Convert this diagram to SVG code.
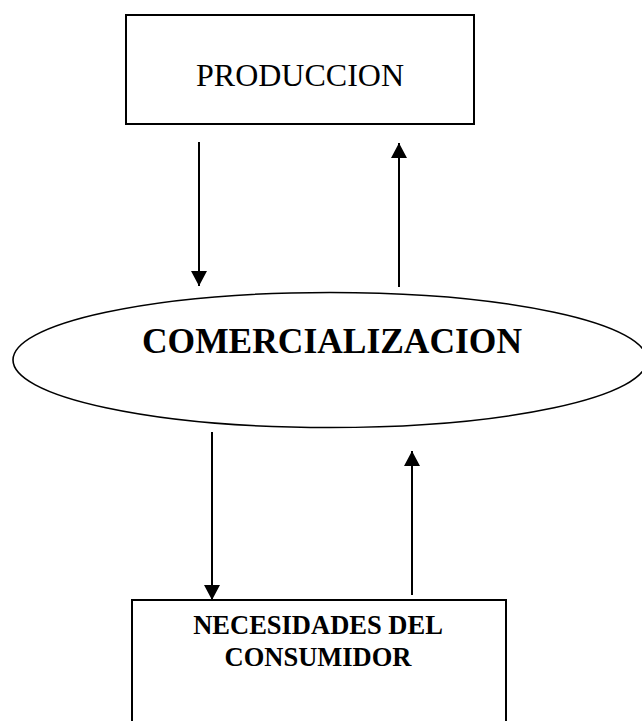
<svg xmlns="http://www.w3.org/2000/svg" width="642" height="721" viewBox="0 0 642 721">
<defs>
<marker id="ah" markerUnits="userSpaceOnUse" markerWidth="16" markerHeight="16" viewBox="0 0 16 16" refX="15" refY="8" orient="auto">
<path d="M0,0 L15,8 L0,16 Z" fill="#000"/>
</marker>
</defs>
<style>
.box{fill:#fff;stroke:#000;stroke-width:2}
.ell{fill:#fff;stroke:#000;stroke-width:1.6}
.conn{stroke:#000;stroke-width:2;fill:none;marker-end:url(#ah)}
.t{font-family:"Liberation Serif","Times New Roman",serif;fill:#000;text-anchor:middle}
.b{font-weight:bold}
</style>
<rect width="642" height="721" fill="#fff"/>
<g id="produccion">
<rect class="box" x="126" y="15" width="348" height="109"/>
<text class="t" x="300" y="86" font-size="32">PRODUCCION</text>
</g>
<g id="comercializacion">
<ellipse class="ell" cx="330" cy="360" rx="317" ry="67.5"/>
<text class="t b" x="332" y="353" font-size="36" textLength="380" lengthAdjust="spacingAndGlyphs">COMERCIALIZACION</text>
</g>
<g id="necesidades">
<rect class="box" x="132" y="600" width="374" height="130"/>
<text class="t b" x="318" y="634" font-size="26.5">NECESIDADES DEL</text>
<text class="t b" x="318" y="666" font-size="26.5">CONSUMIDOR</text>
</g>
<g id="connectors">
<line class="conn" x1="199" y1="142" x2="199" y2="286"/>
<line class="conn" x1="399" y1="287" x2="399" y2="143"/>
<line class="conn" x1="212" y1="432" x2="212" y2="600"/>
<line class="conn" x1="412" y1="595" x2="412" y2="451"/>
</g>
</svg>
